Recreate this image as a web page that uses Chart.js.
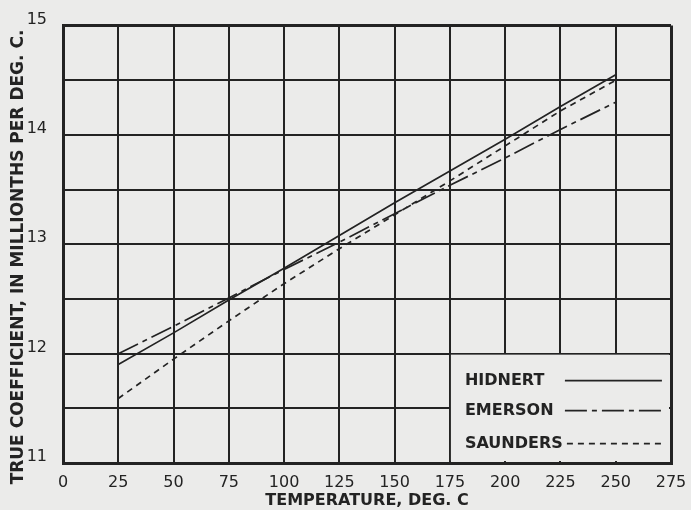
<!DOCTYPE html>
<html>
<head>
<meta charset="utf-8">
<script src="https://cdn.jsdelivr.net/npm/chart.js@4/dist/chart.umd.min.js"></script>
<style>
  html, body { margin: 0; padding: 0; background: #ebebea; }
  #wrap { width: 691px; height: 510px; }
</style>
</head>
<body>
<div id="wrap"><canvas id="myChart" width="691" height="510"></canvas></div>
<script>
'use strict'

// temperatures, deg C
const temps = [25, 50, 75, 100, 125, 150, 175, 200, 225, 250];
// true coefficient, millionths per deg C
const hidnert = [11.90, 12.19, 12.49, 12.78, 13.08, 13.38, 13.67, 13.96, 14.26, 14.55];
const emerson = [12.00, 12.25, 12.51, 12.77, 13.02, 13.28, 13.54, 13.79, 14.05, 14.30];
const saunders = [11.59, 11.95, 12.30, 12.64, 12.96, 13.27, 13.58, 13.90, 14.22, 14.50];

const seriesNames = ['HIDNERT', 'EMERSON', 'SAUNDERS'];
const xTicks = [0, 25, 50, 75, 100, 125, 150, 175, 200, 225, 250, 275];
const yTicks = [11, 12, 13, 14, 15];

const ink = '#232323';
const paper = '#ebebea';
const font = "'DejaVu Sans', sans-serif";
const dashes = [[], [22, 5, 5, 5], [6, 5]];

function points(ys) {
    return temps.map((t, i) => ({ x: t, y: ys[i] }));
}

// white-out box in lower right with the key, plus the y title
const keyBox = {
    id: 'keyBox',
    beforeDatasetsDraw(chart) {
        const c = chart.ctx;
        const xs = chart.scales.x, ys = chart.scales.y;
        const left = xs.getPixelForValue(175), top = ys.getPixelForValue(12);
        const a = chart.chartArea;
        c.save();
        c.fillStyle = paper;
        c.fillRect(left + 1, top + 1, a.right - left - 3, a.bottom - top - 3);
        c.restore();
    },
    afterDatasetsDraw(chart) {
        const c = chart.ctx;
        const left = chart.scales.x.getPixelForValue(175);
        const top = chart.scales.y.getPixelForValue(12);
        c.save();
        c.fillStyle = ink;
        c.strokeStyle = ink;
        c.lineWidth = 1.7;
        c.font = 'bold 16px ' + font;
        c.textBaseline = 'middle';
        const rowY = [27, 57, 90];
        seriesNames.forEach((n, i) => {
            c.fillText(n, left + 15, top + rowY[i]);
            c.setLineDash(dashes[i]);
            c.beginPath();
            c.moveTo(left + (i === 2 ? 117 : 115), top + rowY[i]);
            c.lineTo(left + 212, top + rowY[i]);
            c.stroke();
        });
        c.setLineDash([]);
        // y axis title
        c.font = 'bold 17px ' + font;
        c.textAlign = 'center';
        c.translate(19, 257);
        c.rotate(-Math.PI / 2);
        c.fillText('TRUE COEFFICIENT, IN MILLIONTHS PER DEG. C.', 0, 0);
        c.restore();
    }
};

const ctx = document.getElementById('myChart').getContext('2d');

const myChart = new Chart(ctx, {
    type: 'line',
    data: {
        datasets: [
            { label: seriesNames[0], data: points(hidnert), borderDash: dashes[0] },
            { label: seriesNames[1], data: points(emerson), borderDash: dashes[1] },
            { label: seriesNames[2], data: points(saunders), borderDash: dashes[2] }
        ].map(d => Object.assign(d, {
            borderColor: ink,
            borderWidth: 1.7,
            pointRadius: 0,
            tension: 0,
            fill: false
        }))
    },
    options: {
        responsive: false,
        animation: false,
        layout: { padding: { top: 14, right: 20, left: 0, bottom: 0 } },
        plugins: {
            legend: { display: false },
            tooltip: { enabled: false }
        },
        scales: {
            x: {
                type: 'linear',
                min: 0,
                max: 275,
                afterFit(scale) {
                    scale.height = 47;
                    scale.paddingLeft = 0;
                    scale.paddingRight = 0;
                },
                afterBuildTicks(scale) { scale.ticks = xTicks.map(v => ({ value: v })); },
                grid: {
                    color: ink,
                    lineWidth: c => (c.index === 0 || c.index === xTicks.length - 1) ? 3 : 2,
                    drawTicks: false
                },
                border: { display: true, color: ink, width: 3 },
                ticks: {
                    color: ink,
                    padding: 10,
                    maxRotation: 0,
                    autoSkip: false,
                    font: { family: font, size: 16 }
                },
                title: {
                    display: true,
                    text: 'TEMPERATURE, DEG. C',
                    color: ink,
                    padding: { top: 1, bottom: 0 },
                    font: { family: font, size: 16, weight: 'bold' }
                }
            },
            y: {
                min: 11,
                max: 15,
                afterFit(scale) { scale.width = 63; },
                ticks: {
                    stepSize: 0.5,
                    color: ink,
                    padding: 16,
                    labelOffset: -6,
                    font: { family: font, size: 16 },
                    callback: v => yTicks.includes(v) ? String(v) : ''
                },
                grid: {
                    color: ink,
                    lineWidth: c => (c.tick && c.tick.value === 15) ? 3 : 2,
                    drawTicks: false
                },
                border: { display: true, color: ink, width: 3 }
            }
        }
    },
    plugins: [keyBox]
});
</script>
</body>
</html>
